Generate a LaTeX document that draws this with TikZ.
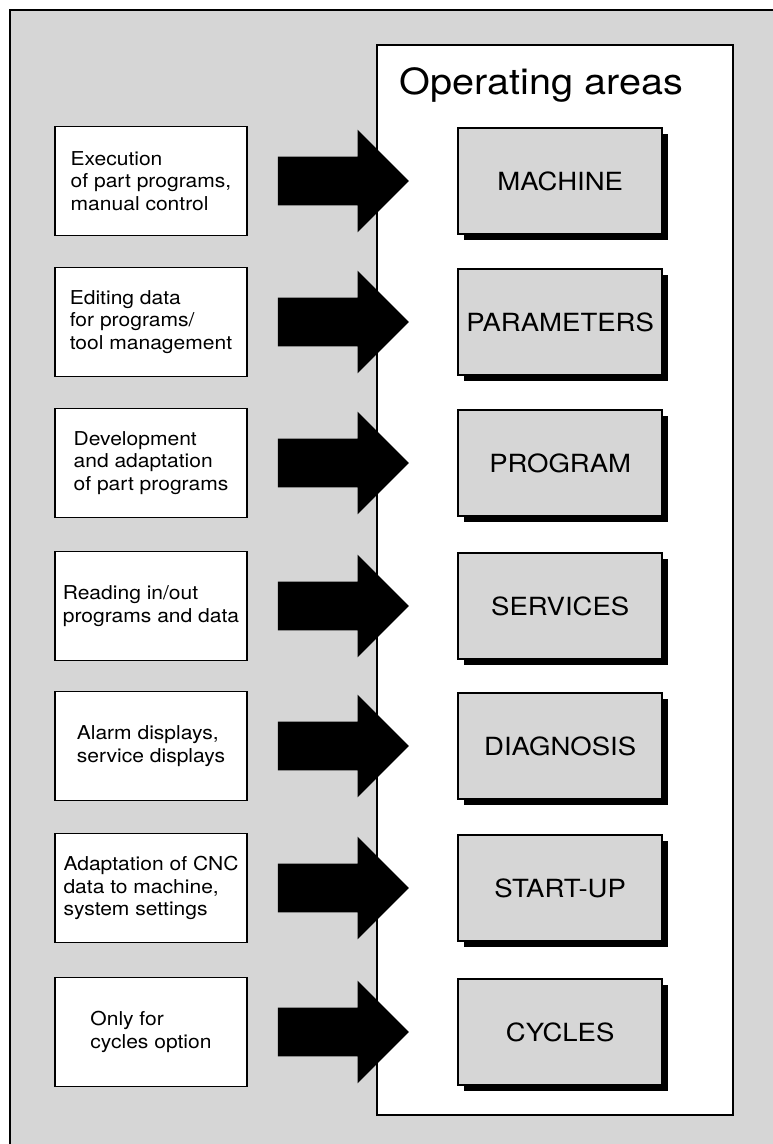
\documentclass[tikz,border=0pt]{standalone}
\usepackage{fontspec}
\setmainfont{TeX Gyre Heros}[FakeStretch=1.1]
\usetikzlibrary{positioning,shapes.arrows,shadows}
\definecolor{panelgray}{gray}{0.84}
\tikzset{
  task/.style={draw, fill=white, line width=0.8pt, minimum width=4.8cm, minimum height=2.725cm,
    align=left, font=\fontsize{13.6}{16}\selectfont},
  area/.style={draw, fill=panelgray, line width=1.2pt, minimum width=5.1cm, minimum height=2.65cm,
    font=\fontsize{17.8}{20}\selectfont,
    drop shadow={fill=black, opacity=1, shadow xshift=0.15cm, shadow yshift=-0.15cm}},
  bigarrow/.style={single arrow, fill=black, inner xsep=0pt, inner ysep=0.6cm,
    minimum height=3.275cm, single arrow head extend=0.675cm}
}

\begin{document}
\begin{tikzpicture}[x=0.025cm, y=-0.025cm]
\useasboundingbox (0,0) rectangle (772,1144);
\fill[panelgray] (10,10) rectangle (800,1170);
\draw[line width=1.8pt] (10,1170) -- (10,10) -- (800,10);
\draw[fill=white, line width=1pt] (377,45) rectangle (733,1115);
\node[anchor=base west, font=\fontsize{25.6}{30}\selectfont] (title) at (395,94) {Operating areas};

\node[task] (exec) at (151,181) {Execution\\of part programs,\\manual control};
\node[bigarrow, right=0.75cm of exec] (a1) {};
\node[area, right=1.2cm of a1] (machine) {MACHINE};

\node[task] (edit) at (151,322) {Editing data\\for programs/\\tool management};
\node[bigarrow, right=0.75cm of edit] (a2) {};
\node[area, right=1.2cm of a2] (param) {PARAMETERS};

\node[task] (devel) at (151,463) {Development\\and adaptation\\of part programs};
\node[bigarrow, right=0.75cm of devel] (a3) {};
\node[area, right=1.2cm of a3] (prog) {PROGRAM};

\node[task] (read) at (151,606) {Reading in/out\\programs and data};
\node[bigarrow, right=0.75cm of read] (a4) {};
\node[area, right=1.2cm of a4] (serv) {SERVICES};

\node[task] (alarm) at (151,746) {Alarm displays,\\service displays};
\node[bigarrow, right=0.75cm of alarm] (a5) {};
\node[area, right=1.2cm of a5] (diag) {DIAGNOSIS};

\node[task] (adapt) at (151,888) {Adaptation of CNC\\data to machine,\\system settings};
\node[bigarrow, right=0.75cm of adapt] (a6) {};
\node[area, right=1.2cm of a6] (start) {START-UP};

\node[task] (only) at (151,1032) {Only for\\cycles option};
\node[bigarrow, right=0.75cm of only] (a7) {};
\node[area, right=1.2cm of a7] (cyc) {CYCLES};
\end{tikzpicture}
\end{document}
